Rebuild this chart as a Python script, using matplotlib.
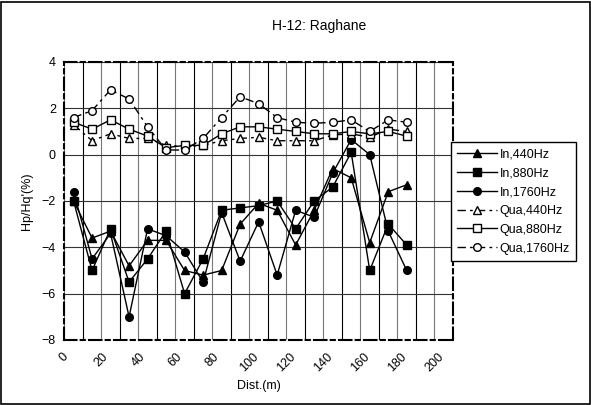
import numpy as np
import matplotlib
matplotlib.use("Agg")
import matplotlib.pyplot as plt
from matplotlib.ticker import MultipleLocator

plt.rcParams['font.family'] = ['Liberation Sans', 'DejaVu Sans']

# distances (m)
dist = [5, 15, 25, 35, 45, 55, 65, 75, 85, 95, 105, 115, 125, 135, 145, 155, 165, 175, 185]

in_440 = [-2.0, -3.6, -3.3, -4.8, -3.7, -3.7, -5.0, -5.2, -5.0, -3.0, -2.1, -2.4, -3.9, -2.4, -0.6, -1.0, -3.8, -1.6, -1.3]
in_880 = [-2.0, -5.0, -3.2, -5.5, -4.5, -3.3, -6.0, -4.5, -2.4, -2.3, -2.2, -2.0, -3.2, -2.0, -1.4, 0.1, -5.0, -3.0, -3.9]
in_1760 = [-1.6, -4.5, -3.4, -7.0, -3.2, -3.5, -4.2, -5.5, -2.5, -4.6, -2.9, -5.2, -2.4, -2.7, -0.8, 0.65, 0.0, -3.3, -5.0]

qua_440 = [1.3, 0.6, 0.9, 0.7, 0.7, 0.4, 0.35, 0.4, 0.6, 0.7, 0.75, 0.6, 0.6, 0.6, 0.85, 0.9, 0.75, 1.1, 1.0]
qua_880 = [1.4, 1.1, 1.5, 1.1, 0.8, 0.3, 0.4, 0.4, 0.9, 1.2, 1.2, 1.1, 1.0, 0.9, 0.9, 1.0, 0.9, 1.0, 0.8]
qua_1760 = [1.6, 1.9, 2.8, 2.4, 1.2, 0.2, 0.2, 0.7, 1.6, 2.5, 2.2, 1.6, 1.4, 1.35, 1.4, 1.5, 1.0, 1.5, 1.4]

x_ticks = [0, 20, 40, 60, 80, 100, 120, 140, 160, 180, 200]
y_ticks = [-8, -6, -4, -2, 0, 2, 4]

fig = plt.figure(figsize=(5.91, 4.05), dpi=100)
ax = fig.add_axes([0.1088, 0.1605, 0.6577, 0.6865])

ax.set_xlim(0, 210)
ax.set_ylim(-8, 4)
ax.set_xticks(x_ticks)
ax.set_yticks(y_ticks)
ax.xaxis.set_minor_locator(MultipleLocator(10))
ax.grid(True, which='major', axis='x', color='#777777', linewidth=0.8)
ax.grid(True, which='minor', axis='x', color='black', linewidth=0.8)
ax.grid(True, which='major', axis='y', color='#333333', linewidth=0.8)
ax.tick_params(which='both', length=0)
ax.tick_params(axis='y', labelsize=9, pad=6)
ax.tick_params(axis='x', labelsize=9, pad=8)
for lab in ax.get_xticklabels():
    lab.set_rotation(45)

for sp in ax.spines.values():
    sp.set_linestyle((0, (6, 2, 2, 2)))
    sp.set_linewidth(1.5)
    sp.set_color('black')

dash = (0, (6, 3, 2, 3))
ax.plot(dist, in_440, color='black', lw=1, marker='^', ms=5.5, mfc='black', label='In,440Hz')
ax.plot(dist, in_880, color='black', lw=1, marker='s', ms=5.5, mfc='black', label='In,880Hz')
ax.plot(dist, in_1760, color='black', lw=1, marker='o', ms=5.5, mfc='black', label='In,1760Hz')
ax.plot(dist, qua_440, color='black', lw=1, ls=dash, marker='^', ms=5.5, mfc='white', label='Qua,440Hz')
ax.plot(dist, qua_880, color='black', lw=1, marker='s', ms=5.5, mfc='white', label='Qua,880Hz')
ax.plot(dist, qua_1760, color='black', lw=1, ls=dash, marker='o', ms=5.5, mfc='white', label='Qua,1760Hz')

ax.set_xlabel('Dist.(m)', fontsize=9, labelpad=4)
ax.set_ylabel("Hp/Hq'(%)", fontsize=9, labelpad=6)
fig.text(0.54, 0.935, 'H-12: Raghane', ha='center', va='center', fontsize=10)

leg = ax.legend(loc='upper left', bbox_to_anchor=(0.995, 0.712), fontsize=9,
                frameon=True, fancybox=False, edgecolor='black', framealpha=1,
                handlelength=3.2, labelspacing=0.55, borderpad=0.5, handletextpad=0.2,
                borderaxespad=0)
leg.get_frame().set_linewidth(1)

# outer border of the figure
fig.patches.append(plt.Rectangle((0.002, 0.002), 0.996, 0.994, transform=fig.transFigure,
                                 fill=False, edgecolor='black', linewidth=1.2))

fig.savefig('out.png', dpi=100)
